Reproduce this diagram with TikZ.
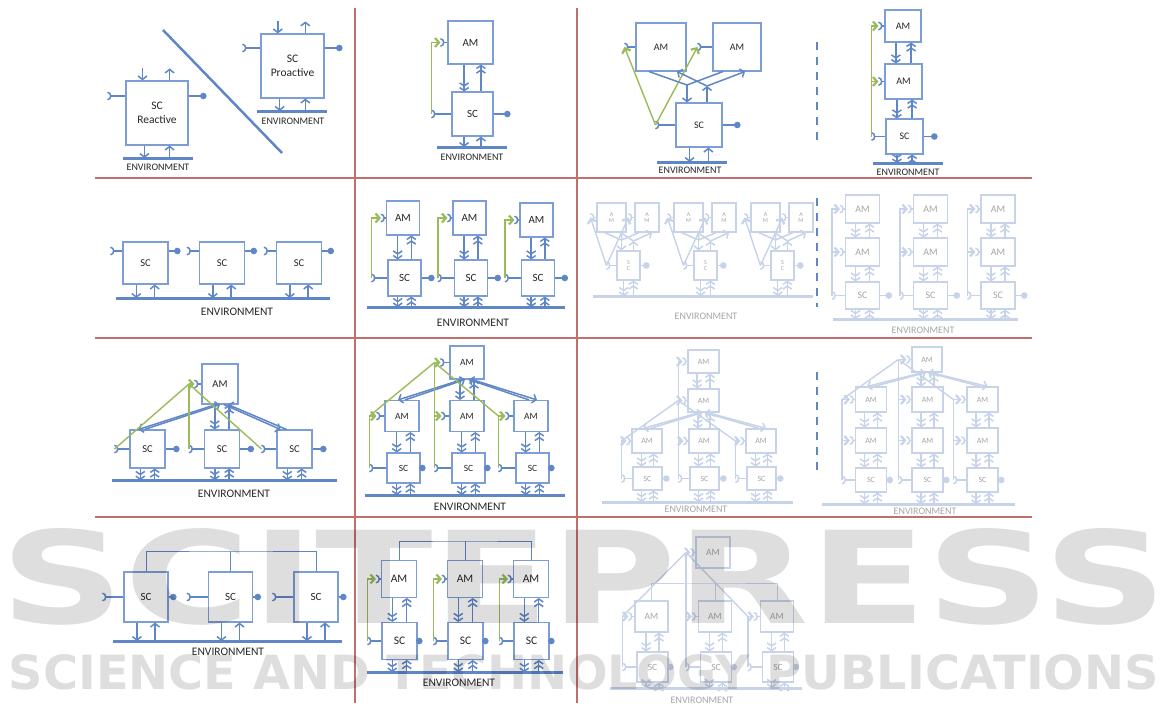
\documentclass[tikz,border=0pt]{standalone}
\usepackage{fontspec}
\setmainfont{Carlito}
\newfontfamily\markfont{DejaVu Sans}
\usetikzlibrary{arrows.meta, calc}

\definecolor{unitblue}{HTML}{5F86C6}
\definecolor{boxblue}{HTML}{7C9DD5}
\definecolor{loopgreen}{HTML}{9BBB59}
\definecolor{gridred}{HTML}{C06F6A}
\definecolor{fadeblue}{HTML}{C7D3E9}
\definecolor{fadetext}{HTML}{A5A5A5}
\colorlet{ucol}{unitblue}
\colorlet{bcol}{boxblue}
\colorlet{gcol}{loopgreen}
\colorlet{tcol}{black!85}

% a box: [options]{name}{x}{y}{width}{height}{text}
\newcommand{\ubox}[7][]{\node[box, minimum width=#5pt, minimum height=#6pt, #1] (#2) at (#3,#4) {#7};}
% socket in, ball out: [dy]{box}{socket length}{ball length}
\newcommand{\ports}[4][0]{%
  \draw[inport] ($(#2.west)+(0,#1)$) -- ++(-#3,0) coordinate (#2-in);
  \draw[outport] ($(#2.east)+(0,#1)$) -- ++(#4,0);
}
\newcommand{\amport}[2]{\draw[inport] (#1.west) -- ++(-#2,0) coordinate (#1-in);}
% double arrows between an upper and a lower box
\newcommand{\vlinks}[2]{%
  \coordinate (#2-vd) at ($(#2.north west)!0.3!(#2.north east)$);
  \coordinate (#2-vu) at ($(#2.north west)!0.7!(#2.north east)$);
  \draw[dlink] (#2-vd |- #1.south) -- (#2-vd);
  \draw[dlink] (#2-vu) -- (#2-vu |- #1.south);
}
% arrows between a box and the environment bar
\newcommand{\envlinks}[3][dlink]{%
  \coordinate (#2-ed) at ($(#2.south west)!0.3!(#2.south east)$);
  \coordinate (#2-eu) at ($(#2.south west)!0.7!(#2.south east)$);
  \draw[#1] (#2-ed) -- (#2-ed |- #3);
  \draw[#1] (#2-eu |- #3) -- (#2-eu);
}
\newcommand{\toplinks}[2]{%
  \coordinate (#1-td) at ($(#1.north west)!0.27!(#1.north east)$);
  \coordinate (#1-tu) at ($(#1.north west)!0.7!(#1.north east)$);
  \draw[slink] ($(#1-td)+(0,-#2)$) -- (#1-td);
  \draw[slink] (#1-tu) -- ++(0,-#2);
}
% [label options]{name}{x1}{x2}{y}{label x}{label y}
\newcommand{\envbar}[7][]{%
  \coordinate (#2) at (#3,#5);
  \draw[envline] (#3,#5) -- (#4,#5);
  \node[envtext, #1] (#2-lab) at (#6,#7) {ENVIRONMENT};
}
\newcommand{\greenup}[2]{\draw[gtip] (#1-in) |- (#2-in);}

\begin{document}
\begin{tikzpicture}[x=1pt, y=-1pt,
    box/.style={
        draw=bcol,
        line width=1.1pt,
        fill=white,
        inner sep=0pt,
        align=center,
        text=tcol,
        font=\fontsize{10}{11}\selectfont
    },
    link/.style={draw=ucol, line width=1.5pt},
    slink/.style={link, -{Straight Barb[length=3.5pt,width=9pt]}},
    dlink/.style={link, -{Straight Barb[length=3pt,width=9pt] Straight Barb[length=3pt,width=9pt]}},
    inport/.style={link, -{Arc Barb[reversed,length=4pt,width=9pt]}},
    outport/.style={link, -{Circle[length=6.5pt]}},
    gline/.style={draw=gcol, line width=1.4pt},
    gtip/.style={gline, -{Straight Barb[length=4pt,width=9pt,line width=2.2pt]}},
    envline/.style={draw=ucol, line width=3pt},
    envtext/.style={text=tcol, inner sep=0pt, font=\fontsize{10}{11}\selectfont},
    gridline/.style={draw=gridred, line width=2.5pt},
    sepdash/.style={draw=ucol, line width=2.5pt, dash pattern=on 8pt off 7pt},
    faded/.code={\colorlet{ucol}{fadeblue}\colorlet{bcol}{fadeblue}\colorlet{gcol}{fadeblue}\colorlet{tcol}{fadetext}},
    watermark/.style={inner sep=0pt, text=black, opacity=0.13}
]
    \useasboundingbox (0,0) rectangle (1169,709);

    % grid
    \draw[gridline] (95,178) -- (1032,178);
    \draw[gridline] (95,338) -- (1032,338);
    \draw[gridline] (95,517) -- (1032,517);
    \draw[gridline] (355,8) -- (355,703);
    \draw[gridline] (577,8) -- (577,703);

    % row 1: reactive / proactive
    \ubox[font=\fontsize{11.5}{14}\selectfont]{react}{157}{113}{62}{64}{SC\\Reactive}
    \ports[-17]{react}{18}{18}
    \toplinks{react}{12}
    \envbar{envra}{123}{193}{158}{158}{167}
    \envlinks[slink]{react}{envra}
    \draw[link, line width=2.5pt] (163,30) -- (282,153);
    \ubox[font=\fontsize{11.5}{14}\selectfont]{proact}{292.5}{66}{63}{64}{SC\\Proactive}
    \ports[-18]{proact}{18}{18}
    \toplinks{proact}{12}
    \envbar{envpa}{257}{327}{111}{293}{121}
    \envlinks[slink]{proact}{envpa}

    % row 1: one AM
    \ubox[font=\fontsize{11}{12}\selectfont]{am1b}{470.5}{42.5}{45}{43}{AM}
    \ubox[font=\fontsize{11}{12}\selectfont]{sc1b}{472.5}{114}{41}{44}{SC}
    \vlinks{am1b}{sc1b}
    \ports{sc1b}{20}{17}
    \amport{am1b}{7}
    \greenup{sc1b}{am1b}
    \envbar{env1b}{437}{507}{147}{472}{157}
    \envlinks[slink]{sc1b}{env1b}

    % row 1: two AMs side by side
    \ubox{am1c}{661}{47}{50}{48}{AM}
    \ubox{am2c}{737}{47}{48}{48}{AM}
    \ubox{sc1c}{699}{125}{46}{44}{SC}
    \ports{sc1c}{20}{18}
    \amport{am1c}{11}
    \amport{am2c}{15}
    \draw[gtip] (sc1c-in) -- (am1c-in);
    \draw[gtip] (sc1c-in) -- (am2c-in);
    \coordinate (j1c) at (687,85);
    \coordinate (j2c) at (707,86);
    \draw[link] ($(am1c.south)+(-12,0)$) -- (j1c);
    \draw[link] ($(am2c.south)+(-14,0)$) -- (j1c);
    \draw[slink] (j1c) -- (j1c |- sc1c.north);
    \draw[slink] (j2c |- sc1c.north) -- (j2c);
    \draw[slink] (j2c) -- ($(am1c.south)+(16,0)$);
    \draw[slink] (j2c) -- ($(am2c.south)+(8,0)$);
    \envbar{env1c}{657}{727}{162}{690}{170}
    \envlinks[slink]{sc1c}{env1c}
    \draw[sepdash] (817,42) -- (817,143);

    % row 1: two AMs stacked
    \ubox{am1d}{903}{26}{36}{32}{AM}
    \ubox{am2d}{903.5}{81.5}{37}{35}{AM}
    \ubox{sc1d}{904.5}{136.5}{37}{35}{SC}
    \vlinks{am1d}{am2d}
    \vlinks{am2d}{sc1d}
    \ports{sc1d}{14}{14}
    \amport{am1d}{6}
    \amport{am2d}{6}
    \greenup{sc1d}{am1d}
    \greenup{sc1d}{am2d}
    \envbar{env1d}{873}{943}{163}{908}{172}
    \envlinks{sc1d}{env1d}

    % row 2: three SCs
    \envbar[font=\fontsize{11.5}{12}\selectfont]{env2a}{116}{330}{298}{237}{312}
    \foreach \i/\x in {1/145.5, 2/222, 3/299} {
        \ubox[font=\fontsize{10.5}{12}\selectfont]{sc2a\i}{\x}{263}{45}{42}{SC}
        \ports[-12]{sc2a\i}{12}{12}
        \envlinks[slink]{sc2a\i}{env2a}
    }

    % row 2: three AM-SC columns
    \envbar[font=\fontsize{11.5}{12}\selectfont]{env2b}{367}{565}{307}{473}{323}
    \foreach \i/\x/\y in {1/403/218, 2/469.5/218, 3/536.5/220} {
        \ubox[font=\fontsize{11}{12}\selectfont]{am2b\i}{\x}{\y}{33}{34}{AM}
        \ubox[font=\fontsize{11}{12}\selectfont]{sc2b\i}{\x+1.5}{278}{33}{36}{SC}
        \vlinks{am2b\i}{sc2b\i}
        \ports{sc2b\i}{16}{13}
        \amport{am2b\i}{5}
        \greenup{sc2b\i}{am2b\i}
        \envlinks{sc2b\i}{env2b}
    }

    % row 2: faded
    \begin{scope}[faded]
        \envbar{env2c}{593}{813}{296}{706}{316}
        \foreach \i/\g in {1/0, 2/77, 3/154} {
            \begin{scope}[xshift=\g pt]
                \ubox[font=\fontsize{6}{6.5}\selectfont]{fxa\i}{611.5}{217.5}{29}{29}{A\\M}
                \ubox[font=\fontsize{6}{6.5}\selectfont]{fxb\i}{647}{217.5}{24}{29}{A\\M}
                \ubox[font=\fontsize{6}{6.5}\selectfont]{fxs\i}{628.5}{265.5}{23}{29}{S\\C}
                \ports{fxs\i}{10}{9}
                \amport{fxa\i}{6}
                \amport{fxb\i}{6}
                \draw[gtip] (fxs\i-in) -- (fxa\i-in);
                \draw[gtip] (fxs\i-in) -- (fxb\i-in);
                \coordinate (fxj\i) at (621.5,240);
                \coordinate (fxk\i) at (633.5,241);
                \draw[link] ($(fxa\i.south)+(-7,0)$) -- (fxj\i);
                \draw[link] ($(fxb\i.south)+(-8,0)$) -- (fxj\i);
                \draw[slink] (fxj\i) -- (fxj\i |- fxs\i.north);
                \draw[slink] (fxk\i |- fxs\i.north) -- (fxk\i);
                \draw[slink] (fxk\i) -- ($(fxa\i.south)+(9,0)$);
                \draw[slink] (fxk\i) -- ($(fxb\i.south)+(5,0)$);
                \envlinks{fxs\i}{env2c}
            \end{scope}
        }
        \envbar{env2d}{833}{1018}{319}{923}{330}
        \foreach \i/\x in {1/862.5, 2/930.5, 3/998} {
            \ubox{fra\i}{\x}{209}{34}{28}{AM}
            \ubox{frb\i}{\x}{252}{34}{28}{AM}
            \ubox{frs\i}{\x}{295.5}{34}{27}{SC}
            \vlinks{fra\i}{frb\i}
            \vlinks{frb\i}{frs\i}
            \ports{frs\i}{13}{12}
            \amport{fra\i}{5}
            \amport{frb\i}{5}
            \greenup{frs\i}{fra\i}
            \greenup{frs\i}{frb\i}
            \envlinks{frs\i}{env2d}
        }
    \end{scope}
    \draw[sepdash] (817,198) -- (817,307);

    % row 3: one AM over three SCs
    \envbar[font=\fontsize{11.5}{12}\selectfont]{env3a}{112}{337}{480}{234}{494}
    \ubox[font=\fontsize{10.5}{12}\selectfont]{am3a}{220}{384}{36}{40}{AM}
    \foreach \i/\x in {1/147.5, 2/222, 3/294.5} {
        \ubox[font=\fontsize{10.5}{12}\selectfont]{sc3a\i}{\x}{449}{35}{38}{SC}
        \ports{sc3a\i}{15}{14}
        \envlinks{sc3a\i}{env3a}
    }
    \amport{am3a}{7}
    \vlinks{am3a}{sc3a2}
    \draw[slink] ($(am3a.south)+(-4,0)$) -- ($(sc3a1.north)+(-9,0)$);
    \draw[slink] ($(sc3a1.north)+(-3,0)$) -- ($(am3a.south)+(0,0)$);
    \draw[slink] ($(am3a.south)+(4,0)$) -- ($(sc3a3.north)+(-14,0)$);
    \draw[slink] ($(sc3a3.north)+(-8,0)$) -- ($(am3a.south)+(8,0)$);
    \coordinate (g3a) at (sc3a2-in |- am3a-in);
    \draw[gline] (sc3a2-in) -- (g3a);
    \draw[gline] (sc3a1-in) -- (g3a);
    \draw[gline] (sc3a3-in) -- (g3a);
    \draw[gtip] (g3a) -- (am3a-in);

    % row 3: one AM over three AM-SC columns
    \envbar[font=\fontsize{11.5}{12}\selectfont]{env3b}{365}{565}{495}{470}{507}
    \ubox[font=\fontsize{9.5}{11}\selectfont]{am3b0}{467}{362.5}{34}{33}{AM}
    \foreach \i/\x in {1/402, 2/467, 3/531} {
        \ubox[font=\fontsize{9.5}{11}\selectfont]{am3b\i}{\x}{416}{34}{31}{AM}
        \ubox[font=\fontsize{9.5}{11}\selectfont]{sc3b\i}{\x+1.5}{468}{33}{30}{SC}
        \vlinks{am3b\i}{sc3b\i}
        \ports{sc3b\i}{17}{5}
        \amport{am3b\i}{8}
        \greenup{sc3b\i}{am3b\i}
        \envlinks{sc3b\i}{env3b}
    }
    \amport{am3b0}{9}
    \vlinks{am3b0}{am3b2}
    \draw[slink] ($(am3b0.south)+(-5,0)$) -- ($(am3b1.north)+(-4,0)$);
    \draw[slink] ($(am3b1.north)+(3,0)$) -- ($(am3b0.south)+(-2,0)$);
    \draw[slink] ($(am3b0.south)+(5,0)$) -- ($(am3b3.north)+(6,0)$);
    \draw[slink] ($(am3b3.north)+(-2,0)$) -- ($(am3b0.south)+(2,0)$);
    \coordinate (g3b) at (sc3b2-in |- am3b0-in);
    \draw[gline] (sc3b2-in) -- (g3b);
    \draw[gtip] (g3b) -- (am3b0-in);
    \draw[gline] (sc3b1-in |- am3b1-in) -- (g3b);
    \draw[gline] (g3b) -- (sc3b3-in |- am3b3-in);

    % row 3: faded
    \begin{scope}[faded]
        \envbar{env3c}{602}{793}{502}{696}{509}
        \ubox[font=\fontsize{8}{9}\selectfont]{ftl0}{703.5}{361.5}{31}{23}{AM}
        \ubox[font=\fontsize{8}{9}\selectfont]{ftl1}{703.5}{400.5}{31}{23}{AM}
        \foreach \i/\x in {1/647, 2/704, 3/761} {
            \ubox[font=\fontsize{8}{9}\selectfont]{fma\i}{\x}{441}{30}{24}{AM}
            \ubox[font=\fontsize{8}{9}\selectfont]{fms\i}{\x+0.5}{478.5}{29}{23}{SC}
            \vlinks{fma\i}{fms\i}
            \ports{fms\i}{11}{7}
            \amport{fma\i}{5}
            \greenup{fms\i}{fma\i}
            \envlinks{fms\i}{env3c}
        }
        \amport{ftl0}{5}
        \amport{ftl1}{5}
        \vlinks{ftl0}{ftl1}
        \vlinks{ftl1}{fma2}
        \draw[slink] ($(ftl1.south)+(-4,0)$) -- ($(fma1.north)+(-4,0)$);
        \draw[slink] ($(fma1.north)+(3,0)$) -- ($(ftl1.south)+(-1,0)$);
        \draw[slink] ($(ftl1.south)+(4,0)$) -- ($(fma3.north)+(5,0)$);
        \draw[slink] ($(fma3.north)+(-2,0)$) -- ($(ftl1.south)+(1,0)$);
        \coordinate (g3c0) at (fms2-in |- ftl0-in);
        \coordinate (g3c1) at (fms2-in |- ftl1-in);
        \draw[gline] (fms2-in) -- (g3c0);
        \draw[gtip] (g3c0) -- (ftl0-in);
        \draw[gtip] (g3c1) -- (ftl1-in);
        \draw[gline] (g3c1) -- (fms1-in |- fma1-in);
        \draw[gline] (g3c1) -- (fms3-in |- fma3-in);

        \envbar{env3d}{822}{1015}{504}{925}{511}
        \ubox[font=\fontsize{8}{9}\selectfont]{fru0}{927}{359.5}{30}{25}{AM}
        \foreach \i/\x in {1/871, 2/927.5, 3/982.5} {
            \ubox[font=\fontsize{8}{9}\selectfont]{frv\i}{\x}{399.5}{31}{25}{AM}
            \ubox[font=\fontsize{8}{9}\selectfont]{frw\i}{\x}{440.5}{31}{25}{AM}
            \ubox[font=\fontsize{8}{9}\selectfont]{frx\i}{\x}{480}{31}{24}{SC}
            \vlinks{frv\i}{frw\i}
            \vlinks{frw\i}{frx\i}
            \ports{frx\i}{13}{6}
            \amport{frv\i}{5}
            \amport{frw\i}{5}
            \greenup{frx\i}{frv\i}
            \greenup{frx\i}{frw\i}
            \envlinks{frx\i}{env3d}
        }
        \amport{fru0}{5}
        \vlinks{fru0}{frv2}
        \draw[slink] ($(fru0.south)+(-4,0)$) -- ($(frv1.north)+(-4,0)$);
        \draw[slink] ($(frv1.north)+(3,0)$) -- ($(fru0.south)+(-1,0)$);
        \draw[slink] ($(fru0.south)+(4,0)$) -- ($(frv3.north)+(5,0)$);
        \draw[slink] ($(frv3.north)+(-2,0)$) -- ($(fru0.south)+(1,0)$);
        \coordinate (g3d) at (frx2-in |- fru0-in);
        \draw[gline] (frx2-in) -- (g3d);
        \draw[gtip] (g3d) -- (fru0-in);
        \draw[gline] (g3d) -- (frx1-in |- frv1-in);
        \draw[gline] (g3d) -- (frx3-in |- frv3-in);
    \end{scope}
    \draw[sepdash] (817,372) -- (817,473);

    % row 4: SCs on a bus
    \envbar[font=\fontsize{11.5}{12}\selectfont]{env4a}{113}{342}{641}{228}{652}
    \foreach \i/\x in {1/146, 2/230.5, 3/316} {
        \ubox[font=\fontsize{11}{12}\selectfont]{sc4a\i}{\x}{597}{44}{50}{SC}
        \ports{sc4a\i}{21}{8}
        \envlinks[slink]{sc4a\i}{env4a}
    }
    \coordinate (bus4a) at (230.5,551);
    \draw[link, line width=1pt] (sc4a1.north) |- (bus4a) -| (sc4a3.north);
    \draw[link, line width=1pt] (sc4a2.north) -- (sc4a2.north |- bus4a);

    % row 4: AM-SC columns on a bus
    \envbar[font=\fontsize{11.5}{12}\selectfont]{env4b}{367}{563}{672}{459}{683}
    \foreach \i/\x in {1/399, 2/465, 3/531} {
        \ubox[font=\fontsize{11.5}{12}\selectfont]{am4b\i}{\x}{579}{35}{37}{AM}
        \ubox[font=\fontsize{11.5}{12}\selectfont]{sc4b\i}{\x+0.5}{641}{35}{37}{SC}
        \vlinks{am4b\i}{sc4b\i}
        \ports{sc4b\i}{14}{5}
        \amport{am4b\i}{5}
        \greenup{sc4b\i}{am4b\i}
        \envlinks{sc4b\i}{env4b}
    }
    \coordinate (bus4b) at (465,541);
    \draw[link, line width=1pt] (am4b1.north) |- (bus4b) -| (am4b3.north);
    \draw[link, line width=1pt] (am4b2.north) -- (am4b2.north |- bus4b);

    % row 4: faded
    \begin{scope}[faded]
        \envbar{env4c}{610}{802}{688}{702}{700}
        \ubox[font=\fontsize{9.5}{11}\selectfont]{fbt0}{713}{552.5}{34}{31}{AM}
        \foreach \i/\x in {1/651.5, 2/715, 3/777} {
            \ubox[font=\fontsize{9.5}{11}\selectfont]{fba\i}{\x}{616.5}{33}{31}{AM}
            \ubox[font=\fontsize{9.5}{11}\selectfont]{fbs\i}{\x+1}{667}{31}{30}{SC}
            \vlinks{fba\i}{fbs\i}
            \ports{fbs\i}{14}{5}
            \amport{fba\i}{6}
            \greenup{fbs\i}{fba\i}
            \envlinks{fbs\i}{env4c}
        }
        \coordinate (bus4c) at (715,583);
        \draw[link, line width=1pt] (fba1.north) |- (bus4c) -| (fba3.north);
        \draw[link, line width=1pt] (fba2.north) -- (fba2.north |- bus4c);
        \amport{fbt0}{5}
        \coordinate (g4c) at (fbs2-in |- fbt0-in);
        \draw[gline] (fbs2-in) -- (g4c);
        \draw[gtip] (g4c) -- (fbt0-in);
        \draw[gline] (g4c) -- (fbs1-in |- fba1-in);
        \draw[gline] (g4c) -- (fbs3-in |- fba3-in);
    \end{scope}

    % publisher mark
    \node[watermark] (markbig) at (584,577) {\resizebox{1165pt}{95pt}{\markfont\bfseries SCITEPRESS}};
    \node[watermark] (marksmall) at (584,672) {\resizebox{1150pt}{35pt}{\markfont\bfseries SCIENCE AND TECHNOLOGY PUBLICATIONS}};
\end{tikzpicture}
\end{document}
